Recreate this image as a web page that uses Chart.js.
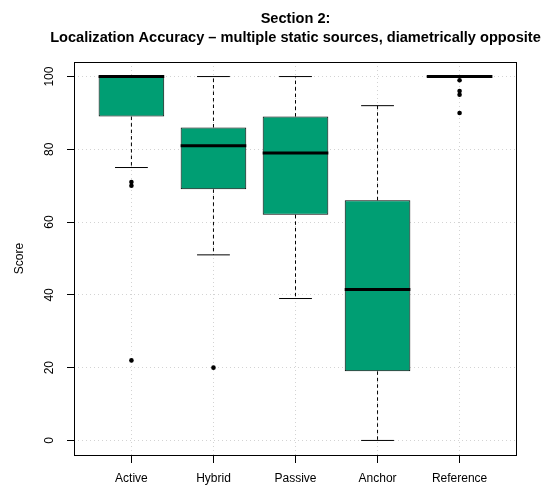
<!DOCTYPE html>
<html>
<head>
<meta charset="utf-8">
<script src="https://cdn.jsdelivr.net/npm/chart.js@4/dist/chart.umd.min.js"></script>
<style>
  html, body { margin: 0; padding: 0; background: #ffffff; }
  canvas { display: block; }
</style>
</head>
<body>
<canvas id="chart" width="554" height="488"></canvas>
<script>
// Boxplot summary per condition (scores 0–100)
const titleLines = ['Section 2:', 'Localization Accuracy \u2013 multiple static sources, diametrically opposite'];
const categories = ['Active', 'Hybrid', 'Passive', 'Anchor', 'Reference'];
const whiskerLow  = [75, 51, 39, 0, 100];
const lowerQuart  = [89, 69, 62, 19, 100];
const medians     = [100, 81, 79, 41.5, 100];
const upperQuart  = [100, 86, 89, 66, 100];
const whiskerHigh = [100, 100, 100, 92, 100];
const outliers    = [[71, 70, 22], [20], [], [], [99, 96, 95, 90]];
const yTicks      = [0, 20, 40, 60, 80, 100];
const yAxisTitle  = 'Score';

const FILL = '#009E73';
const FONT = "'Liberation Sans', Arial, Helvetica, sans-serif";
Chart.defaults.font.family = FONT;
Chart.defaults.color = '#000';

const pos = i => i + 1;
const BOX_HALF = 0.4;   // half box width in category units
const CAP_HALF = 0.2;   // half staple width

const boxData = categories.map((_, i) => ({ x: pos(i), y: [lowerQuart[i], upperQuart[i]] }));
const whiskerData = categories.flatMap((_, i) => [
  { x: pos(i), y: upperQuart[i] }, { x: pos(i), y: whiskerHigh[i] }, { x: pos(i), y: null },
  { x: pos(i), y: lowerQuart[i] }, { x: pos(i), y: whiskerLow[i] },  { x: pos(i), y: null }
]);
const capData = categories.flatMap((_, i) => [
  { x: pos(i) - CAP_HALF, y: whiskerHigh[i] }, { x: pos(i) + CAP_HALF, y: whiskerHigh[i] }, { x: pos(i), y: null },
  { x: pos(i) - CAP_HALF, y: whiskerLow[i] },  { x: pos(i) + CAP_HALF, y: whiskerLow[i] },  { x: pos(i), y: null }
]);
const medianData = categories.flatMap((_, i) => [
  { x: pos(i) - BOX_HALF, y: medians[i] }, { x: pos(i) + BOX_HALF, y: medians[i] }, { x: pos(i), y: null }
]);
const outlierData = outliers.flatMap((vals, i) => vals.map(v => ({ x: pos(i), y: v })));

// Full rectangle around the plotting region
const frame = {
  id: 'frame',
  afterDatasetsDraw(chart) {
    const { ctx, chartArea: a } = chart;
    ctx.save();
    ctx.strokeStyle = '#000';
    ctx.lineWidth = 1;
    ctx.strokeRect(Math.round(a.left) + 0.5, Math.round(a.top) + 0.5,
                   Math.round(a.right - a.left) - 1, Math.round(a.bottom - a.top));
    ctx.restore();
  }
};

// Two-line heading centred over the plotting region
const heading = {
  id: 'heading',
  afterDraw(chart) {
    const { ctx, chartArea: a } = chart;
    const cx = (a.left + a.right) / 2;
    ctx.save();
    ctx.fillStyle = '#000';
    ctx.font = 'bold 14.6px ' + FONT;
    ctx.textAlign = 'center';
    ctx.textBaseline = 'alphabetic';
    ctx.fillText(titleLines[0], cx, 23);
    ctx.fillText(titleLines[1], cx, 41.8);
    ctx.restore();
  }
};

const gridCommon = {
  color: '#d3d3d3',
  lineWidth: 1,
  drawTicks: true,
  tickColor: '#000',
  tickWidth: 1,
  tickBorderDash: [],
  offset: false
};

new Chart(document.getElementById('chart'), {
  type: 'bar',
  data: {
    datasets: [
      {
        type: 'scatter', data: outlierData, order: 1,
        pointRadius: 2.3, pointBackgroundColor: '#000', pointBorderWidth: 0, showLine: false
      },
      {
        type: 'line', data: medianData, order: 2,
        borderColor: '#000', borderWidth: 3, pointRadius: 0, spanGaps: false, fill: false, borderCapStyle: 'butt'
      },
      {
        type: 'line', data: capData, order: 2,
        borderColor: '#000', borderWidth: 1, pointRadius: 0, spanGaps: false, fill: false
      },
      {
        type: 'bar', data: boxData, order: 3,
        backgroundColor: FILL, borderColor: '#000', borderWidth: 1, borderSkipped: false,
        categoryPercentage: 1, barPercentage: 2 * BOX_HALF, grouped: false
      },
      {
        type: 'line', data: whiskerData, order: 4,
        borderColor: '#000', borderWidth: 1, borderDash: [3.5, 3], pointRadius: 0, spanGaps: false, fill: false
      }
    ]
  },
  options: {
    responsive: false,
    animation: false,
    events: [],
    layout: { padding: { top: 62, right: 37, left: 0, bottom: 0 } },
    plugins: {
      legend: { display: false },
      tooltip: { enabled: false },
      title: { display: false }
    },
    scales: {
      x: {
        type: 'linear',
        min: 0.3, max: 5.7,
        offset: false,
        afterBuildTicks: s => { s.ticks = categories.map((_, i) => ({ value: pos(i) })); },
        afterFit: s => { s.height = 33; },
        ticks: {
          autoSkip: false, maxRotation: 0, minRotation: 0, padding: 8,
          font: { size: 12 }, color: '#000',
          callback: v => categories[v - 1]
        },
        grid: Object.assign({}, gridCommon, { tickLength: 8 }),
        border: { display: false, dash: [1, 3] }
      },
      y: {
        type: 'linear',
        min: -4, max: 104,
        afterBuildTicks: s => { s.ticks = yTicks.map(v => ({ value: v })); },
        afterFit: s => { s.width = 74; },
        ticks: {
          minRotation: 90, maxRotation: 90, crossAlign: 'center', padding: 7,
          font: { size: 12 }, color: '#000'
        },
        grid: Object.assign({}, gridCommon, { tickLength: 7 }),
        border: { display: false, dash: [1, 3] },
        title: {
          display: true, text: yAxisTitle, color: '#000',
          font: { size: 12 }, padding: { top: 12.8, bottom: 0 }
        }
      }
    }
  },
  plugins: [frame, heading]
});
</script>
</body>
</html>
